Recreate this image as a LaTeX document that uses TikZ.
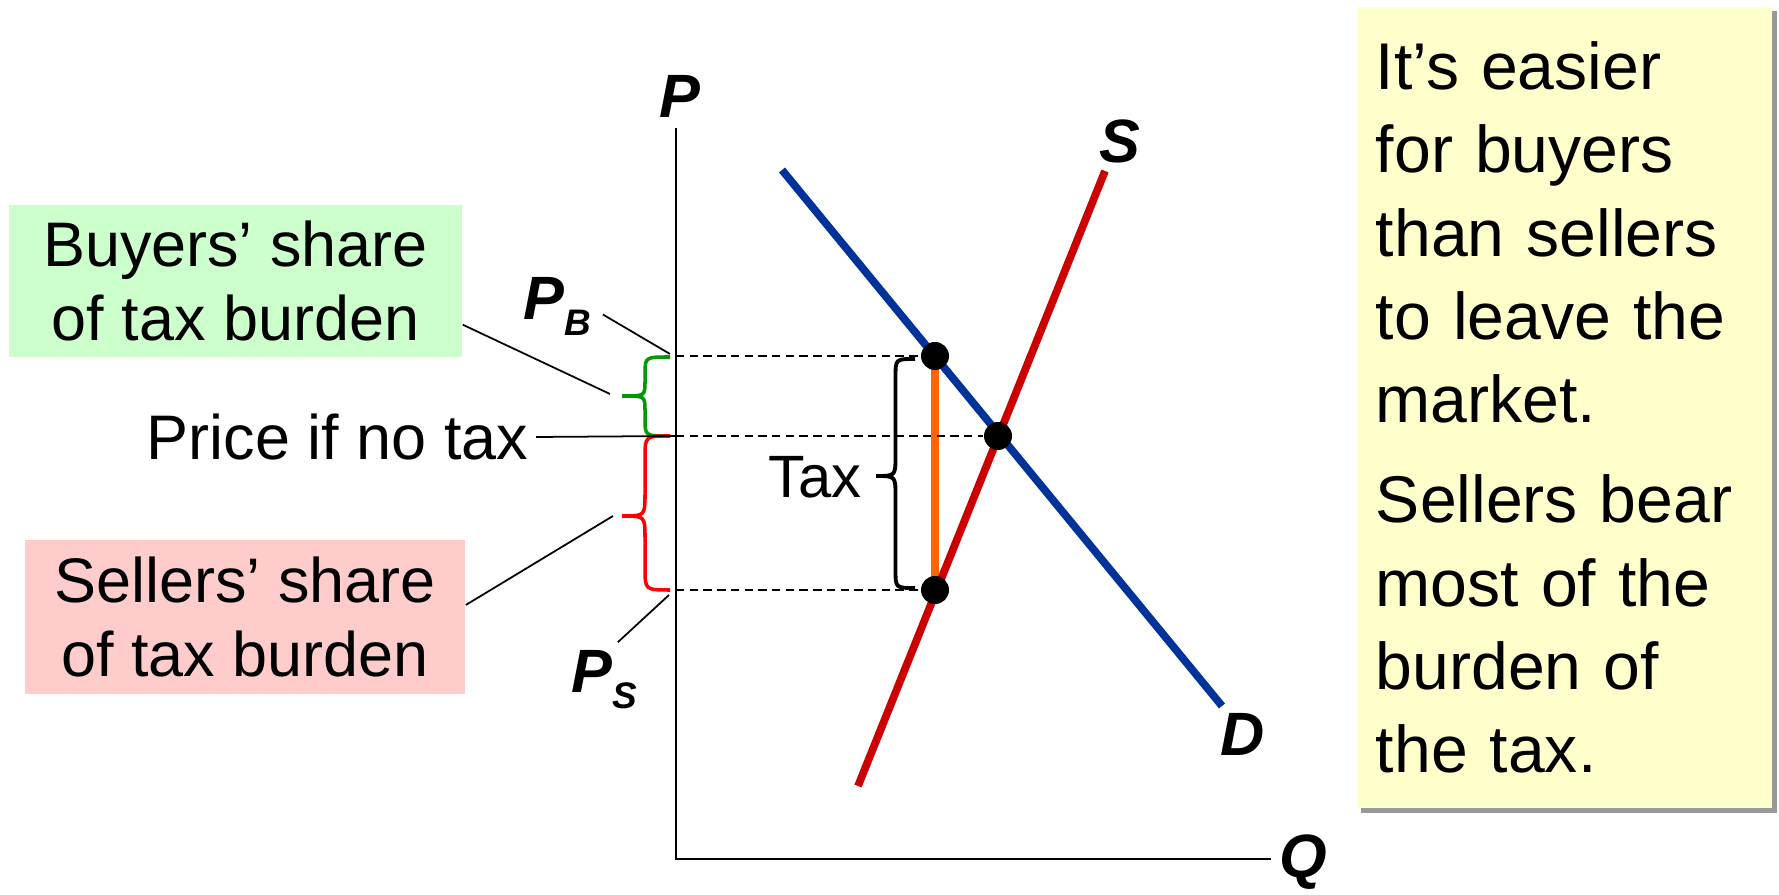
\documentclass[tikz,border=0pt]{standalone}
\usepackage{fontspec}
\setmainfont{Liberation Sans}
\usetikzlibrary{positioning, calc, shadows}

\definecolor{demandblue}{HTML}{003399}
\definecolor{supplyred}{HTML}{CC0000}
\definecolor{taxorange}{HTML}{FF6600}
\definecolor{buyergreen}{HTML}{CCFFCC}
\definecolor{sellerpink}{HTML}{FFCCCC}
\definecolor{noteyellow}{HTML}{FFFFCC}
\definecolor{bracegreen}{HTML}{009900}
\definecolor{bracered}{HTML}{FF0000}

\begin{document}
\begin{tikzpicture}[
        x=0.01cm, y=-0.01cm,
        % Define Styles
        axis/.style={line width=0.6pt},
        demand/.style={draw=demandblue, line width=2.2pt},
        supply/.style={draw=supplyred, line width=2.2pt},
        wedge/.style={draw=taxorange, line width=2.1pt},
        guide/.style={dash pattern=on 2.4pt off 1.5pt, line width=0.7pt},
        leader/.style={line width=0.5pt},
        dot/.style={circle, fill=black, minimum size=0.28cm, inner sep=0pt},
        axislabel/.style={font=\fontsize{17.4}{20}\selectfont\bfseries\itshape, inner sep=0pt},
        sharebox/.style={rectangle, align=center, inner sep=0pt, font=\fontsize{17.9}{21.3}\selectfont},
        notebox/.style={rectangle, fill=noteyellow, align=left, text width=3.77cm, inner xsep=0.19cm, inner ysep=0pt, minimum height=8.01cm, font=\fontsize{18.8}{23.7}\selectfont, drop shadow={shadow xshift=0.045cm, shadow yshift=-0.045cm, fill=black!40, opacity=1}},
        bracket/.style={line width=1pt}
    ]

    \useasboundingbox (0,0) rectangle (1779,895);

    % --- AXES ---
    \coordinate (origin) at (676,859);
    \coordinate (ptop) at (676,128);
    \coordinate (qend) at (1271,859);
    \draw[axis] (ptop) -- (origin) -- (qend);
    \node[axislabel] (plbl) at (680,96) {P};
    \node[axislabel] (qlbl) at (1303,862) {Q};

    % --- SUPPLY, DEMAND AND THE TAX WEDGE ---
    \coordinate (dtop) at (782,170);
    \coordinate (dbot) at (1222,706);
    \coordinate (sbot) at (858,786);
    \coordinate (stop) at (1105,171);
    \coordinate (pbpt) at (935,356);
    \coordinate (pspt) at (935,590);

    \draw[wedge] (pbpt) -- (pspt);
    \draw[demand] (dtop) -- (dbot);
    \draw[supply] (sbot) -- (stop);
    \node[axislabel] (slbl) at (1120,141) {S};
    \node[axislabel] (dlbl) at (1243,734) {D};

    \node[dot] (pb) at (pbpt) {};
    \node[dot] (eq) at (998,436) {};
    \node[dot] (ps) at (pspt) {};

    \draw[guide] (pb -| origin) -- (pb);
    \draw[guide] (eq -| origin) -- (eq);
    \draw[guide] (ps -| origin) -- (ps);

    % --- BRACES ---
    \draw[bracket, draw=bracegreen] (670,357) .. controls (645,357) .. (645,374) -- (645,382)
        .. controls (645,396) .. (622,396) .. controls (645,396) .. (645,410) -- (645,419)
        .. controls (645,436) .. (670,436);
    \draw[bracket, draw=bracered] (670,436) .. controls (645,436) .. (645,458) -- (645,494)
        .. controls (645,516) .. (622,516) .. controls (645,516) .. (645,538) -- (645,568)
        .. controls (645,590) .. (670,590);
    \draw[bracket, line width=1.1pt] (915,359) .. controls (895.5,359) .. (895.5,377) -- (895.5,456)
        .. controls (895.5,476) .. (876,476) .. controls (895.5,476) .. (895.5,496) -- (895.5,570)
        .. controls (895.5,588) .. (915,588);
    \node[anchor=base east, inner sep=0pt, font=\fontsize{17}{20}\selectfont] (taxlbl) at (862,498) {Tax};

    % --- PRICE LABELS AND SHARES ---
    \node[sharebox, fill=buyergreen, minimum width=4.53cm, minimum height=1.52cm] (buyers) at (235.5,281) {Buyers’ share\\of tax burden};
    \node[sharebox, fill=sellerpink, minimum width=4.40cm, minimum height=1.54cm] (sellers) at (245,617) {Sellers’ share\\of tax burden};
    \node[anchor=east, inner sep=0pt, font=\fontsize{17.9}{21}\selectfont] (notax) at (529,437) {Price if no tax};
    \node[axislabel, anchor=base west] (pblbl) at (523,320) {P\raisebox{-4.3pt}{\fontsize{10.5}{12}\selectfont B}};
    \node[axislabel, anchor=base west] (pslbl) at (571,693) {P\raisebox{-4.3pt}{\fontsize{10.5}{12}\selectfont S}};

    \coordinate (buyerstip) at (610,394);
    \coordinate (pbtip) at (670,354);
    \coordinate (sellerstip) at (613,516);
    \coordinate (pstip) at (669,595);
    \draw[leader] ($(buyers.south east)+(0,-33)$) -- (buyerstip);
    \draw[leader] ($(pblbl.east)+(11,8)$) -- (pbtip);
    \draw[leader] ($(notax.east)+(7,0)$) -- (origin |- eq);
    \draw[leader] ($(sellers.east)+(0,-12)$) -- (sellerstip);
    \draw[leader] ($(pslbl.north east)+(-20,-8)$) -- (pstip);

    % --- NOTE ---
    \node[notebox] (note) at (1564.5,407.5) {It’s easier\\for buyers\\than sellers\\to leave the\\market.\\[4.7pt]Sellers bear\\most of the\\burden of\\the tax.};

\end{tikzpicture}
\end{document}
